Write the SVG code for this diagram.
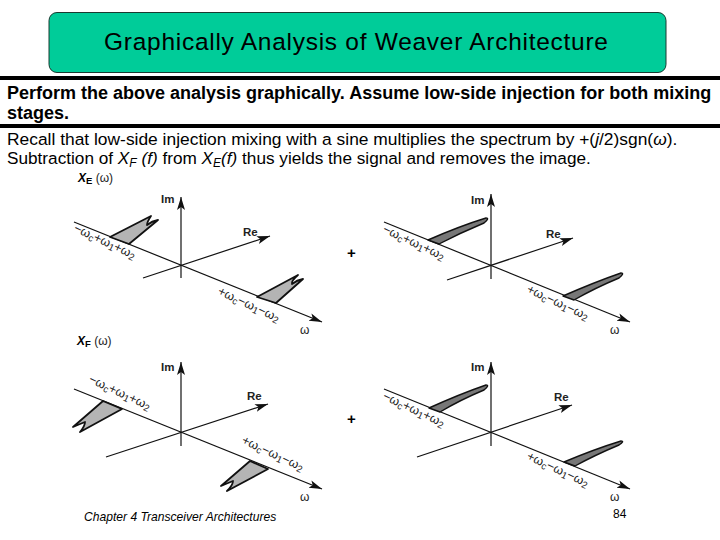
<svg xmlns="http://www.w3.org/2000/svg" width="720" height="540" viewBox="0 0 720 540">
<style>
text{font-family:"Liberation Sans",Arial,sans-serif;fill:#000}
.b{font-weight:bold;font-size:18px}
.r{font-size:17.2px}
.ax{stroke:#111;stroke-width:1.2;fill:none}
.lobe{fill:#b4b4b4;stroke:#111;stroke-width:1.8;stroke-linejoin:round}
.lobe2{fill:#777;stroke:#111;stroke-width:1.4;stroke-linejoin:round}
.t{font-size:12.5px;fill:#222}
.s{font-size:9.5px}
.o{font-size:12px;fill:#222}
.p{font-size:15px;font-weight:bold}
.l{font-size:11.5px;font-weight:bold;fill:#222}
</style>
<defs>
<marker id="ah" markerUnits="userSpaceOnUse" markerWidth="14" markerHeight="10" refX="13" refY="4" orient="auto"><path d="M0 0L13 4L0 8L3 4Z" fill="#111"/></marker>
</defs>
<g id="title">
<rect x="49" y="12.500" width="617" height="60" rx="8" fill="#00cc99" stroke="#1a3a30" stroke-width="1"/>
<text x="356" y="50" text-anchor="middle" font-size="24.500" textLength="504" lengthAdjust="spacing" fill="#000">Graphically Analysis of Weaver Architecture</text>
</g>
<g id="rules">
<rect x="0" y="76" width="720" height="4"/>
<rect x="0" y="124" width="720" height="4"/>
</g>
<g id="body">
<text class="b" x="7" y="99">Perform the above analysis graphically. Assume low-side injection for both mixing</text>
<text class="b" x="7" y="119">stages.</text>
<text class="r" x="7" y="145" font-size="17.400" style="font-size:17.4px">Recall that low-side injection mixing with a sine multiplies the spectrum by +(<tspan font-style="italic">j</tspan>/2)sgn(<tspan font-style="italic">ω</tspan>).</text>
<text class="r" x="7" y="164">Subtraction of <tspan font-style="italic">X</tspan><tspan font-style="italic" font-size="12" dy="3">F</tspan><tspan font-style="italic" dy="-3"> (f)</tspan> from <tspan font-style="italic">X</tspan><tspan font-style="italic" font-size="12" dy="3">E</tspan><tspan font-style="italic" dy="-3">(f)</tspan> thus yields the signal and removes the image.</text>
</g>
<g id="connectors">
<line class="ax" x1="181" y1="278" x2="181" y2="197" marker-end="url(#ah)"/>
<line class="ax" x1="74" y1="222" x2="322" y2="322" marker-end="url(#ah)"/>
<line class="ax" x1="143" y1="278" x2="270" y2="236" marker-end="url(#ah)"/>
<line class="ax" x1="491" y1="279" x2="491" y2="194" marker-end="url(#ah)"/>
<line class="ax" x1="384" y1="222" x2="630" y2="322" marker-end="url(#ah)"/>
<line class="ax" x1="447" y1="280" x2="573" y2="238" marker-end="url(#ah)"/>
<line class="ax" x1="181" y1="446" x2="181" y2="362" marker-end="url(#ah)"/>
<line class="ax" x1="74" y1="389" x2="322" y2="489" marker-end="url(#ah)"/>
<line class="ax" x1="106" y1="457" x2="268" y2="404" marker-end="url(#ah)"/>
<line class="ax" x1="491" y1="446" x2="491" y2="362" marker-end="url(#ah)"/>
<line class="ax" x1="384" y1="389" x2="630" y2="489" marker-end="url(#ah)"/>
<line class="ax" x1="417" y1="457" x2="572" y2="405" marker-end="url(#ah)"/>
</g>
<g id="panel-xe">
<path class="lobe" d="M110 237L151 216Q147 222 147 225Q152 221 158 220L129 244Z"/>
<path class="lobe" d="M257 297L298 275Q291 281 292 284Q297 280 303 279L276 303Z"/>
<text x="78" y="182" font-size="12" font-weight="bold" font-style="italic">X<tspan class="s" dy="2" font-style="normal">E</tspan><tspan dy="-2" font-weight="normal" font-style="normal" fill="#222"> (ω)</tspan></text>
<text x="161" y="203" class="l">Im</text>
<text x="243" y="236" class="l">Re</text>
<text x="300" y="334" class="o">ω</text>
<text class="t" transform="translate(73 231) rotate(25)">−ω<tspan class="s" dy="2">c</tspan><tspan dy="-2">+ω</tspan><tspan class="s" dy="2">1</tspan><tspan dy="-2">+ω</tspan><tspan class="s" dy="2">2</tspan></text>
<text class="t" transform="translate(217 294) rotate(25)">+ω<tspan class="s" dy="2">c</tspan><tspan dy="-2">−ω</tspan><tspan class="s" dy="2">1</tspan><tspan dy="-2">−ω</tspan><tspan class="s" dy="2">2</tspan></text>
</g>
<g id="panel-xe2">
<path class="lobe2" d="M428 240Q460 226 486 218Q490 218 484 223Q460 233 439 244Z"/>
<path class="lobe2" d="M563 296Q595 282 621 273Q625 273 619 278Q595 288 574 300Z"/>
<text x="471" y="204" class="l">Im</text>
<text x="546" y="238" class="l">Re</text>
<text x="610" y="334" class="o">ω</text>
<text x="347" y="258" class="p">+</text>
<text class="t" transform="translate(382 232) rotate(25)">−ω<tspan class="s" dy="2">c</tspan><tspan dy="-2">+ω</tspan><tspan class="s" dy="2">1</tspan><tspan dy="-2">+ω</tspan><tspan class="s" dy="2">2</tspan></text>
<text class="t" transform="translate(526 292) rotate(25)">+ω<tspan class="s" dy="2">c</tspan><tspan dy="-2">−ω</tspan><tspan class="s" dy="2">1</tspan><tspan dy="-2">−ω</tspan><tspan class="s" dy="2">2</tspan></text>
</g>
<g id="panel-xf">
<path class="lobe" d="M103 401L122 409L80 432Q85 426 85 422Q80 424 73 427Z"/>
<path class="lobe" d="M250 461L268 469L227 491Q233 485 233 481Q228 483 221 486Z"/>
<text x="77" y="345" font-size="12" font-weight="bold" font-style="italic">X<tspan class="s" dy="2" font-style="normal">F</tspan><tspan dy="-2" font-weight="normal" font-style="normal" fill="#222"> (ω)</tspan></text>
<text x="161" y="371" class="l">Im</text>
<text x="247" y="400" class="l">Re</text>
<text x="300" y="501" class="o">ω</text>
<text class="t" transform="translate(88 382) rotate(25)">−ω<tspan class="s" dy="2">c</tspan><tspan dy="-2">+ω</tspan><tspan class="s" dy="2">1</tspan><tspan dy="-2">+ω</tspan><tspan class="s" dy="2">2</tspan></text>
<text class="t" transform="translate(241 443) rotate(25)">+ω<tspan class="s" dy="2">c</tspan><tspan dy="-2">−ω</tspan><tspan class="s" dy="2">1</tspan><tspan dy="-2">−ω</tspan><tspan class="s" dy="2">2</tspan></text>
</g>
<g id="panel-xf2">
<path class="lobe2" d="M429 408Q460 394 486 385Q490 385 484 390Q460 400 440 412Z"/>
<path class="lobe2" d="M564 462Q595 449 621 441Q625 441 619 445Q595 455 575 466Z"/>
<text x="471" y="371" class="l">Im</text>
<text x="554" y="401" class="l">Re</text>
<text x="610" y="501" class="o">ω</text>
<text x="347" y="424" class="p">+</text>
<text class="t" transform="translate(382 399) rotate(25)">−ω<tspan class="s" dy="2">c</tspan><tspan dy="-2">+ω</tspan><tspan class="s" dy="2">1</tspan><tspan dy="-2">+ω</tspan><tspan class="s" dy="2">2</tspan></text>
<text class="t" transform="translate(526 459) rotate(25)">+ω<tspan class="s" dy="2">c</tspan><tspan dy="-2">−ω</tspan><tspan class="s" dy="2">1</tspan><tspan dy="-2">−ω</tspan><tspan class="s" dy="2">2</tspan></text>
</g>
<g id="footer">
<text x="84" y="521" font-size="12.100" font-style="italic" fill="#222">Chapter 4 Transceiver Architectures</text>
<text x="613" y="518" font-size="12" fill="#222">84</text>
</g>
</svg>
